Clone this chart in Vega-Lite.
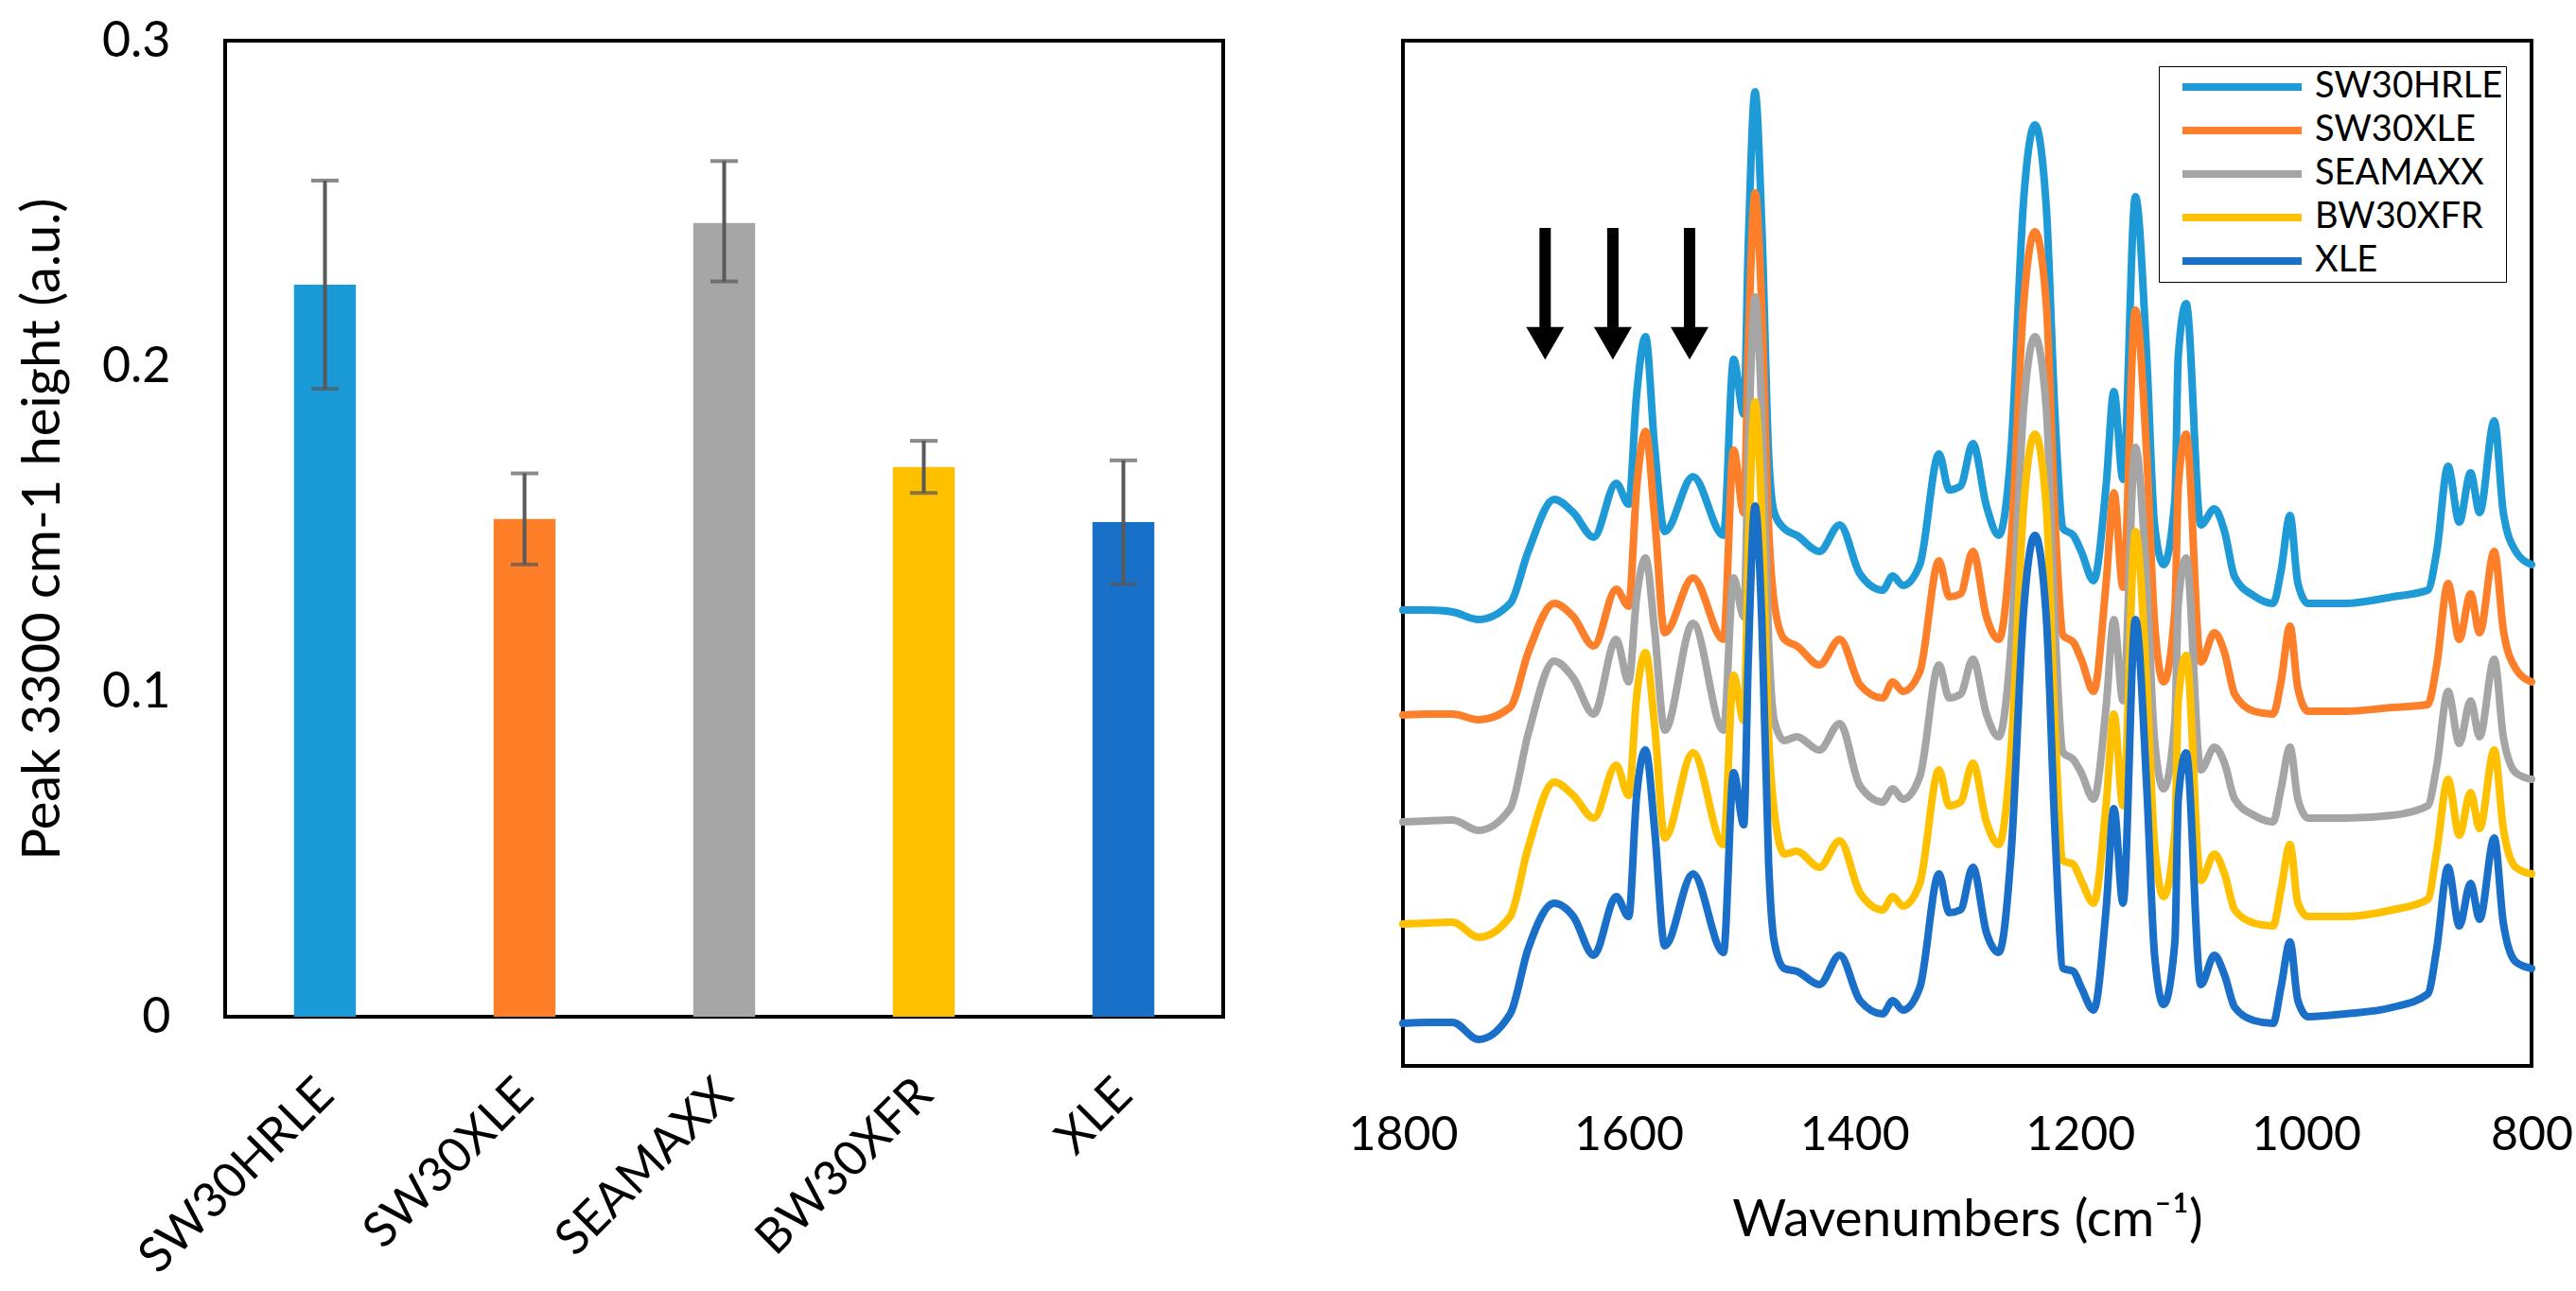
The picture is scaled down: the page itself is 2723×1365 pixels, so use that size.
{
  "$schema": "https://vega.github.io/schema/vega-lite/v6.json",
  "padding": {"left": 15, "top": 15, "right": 5, "bottom": 5},
  "bounds": "flush",
  "spacing": 190,
  "config": {
    "font": "Lato",
    "view": {"stroke": "black", "strokeWidth": 4},
    "axis": {"grid": false, "domain": false, "ticks": false, "tickSize": 0, "labelLimit": 0, "labelFlush": false, "labelColor": "black", "titleColor": "black", "titleFontWeight": "normal"}
  },
  "datasets": {
    "bars": [
      {"membrane": "SW30HRLE", "height": 0.225, "low": 0.193, "high": 0.257},
      {"membrane": "SW30XLE", "height": 0.153, "low": 0.139, "high": 0.167},
      {"membrane": "SEAMAXX", "height": 0.244, "low": 0.226, "high": 0.263},
      {"membrane": "BW30XFR", "height": 0.169, "low": 0.161, "high": 0.177},
      {"membrane": "XLE", "height": 0.152, "low": 0.133, "high": 0.171}
    ],
    "arrows": [
      {"wn": 1674, "top": 886, "bottom": 776, "head": 764},
      {"wn": 1614, "top": 886, "bottom": 776, "head": 764},
      {"wn": 1546, "top": 886, "bottom": 776, "head": 764}
    ],
    "spectra": [
      {"m":"SW30HRLE","wn":1800,"abs":482},{"m":"SW30HRLE","wn":1778,"abs":482},{"m":"SW30HRLE","wn":1756,"abs":480},{"m":"SW30HRLE","wn":1733,"abs":472},{"m":"SW30HRLE","wn":1705,"abs":489},{"m":"SW30HRLE","wn":1689,"abs":544},{"m":"SW30HRLE","wn":1666,"abs":599},{"m":"SW30HRLE","wn":1649,"abs":585},{"m":"SW30HRLE","wn":1631,"abs":559},{"m":"SW30HRLE","wn":1611,"abs":616},
      {"m":"SW30HRLE","wn":1600,"abs":594},{"m":"SW30HRLE","wn":1593,"abs":709},{"m":"SW30HRLE","wn":1585,"abs":771},{"m":"SW30HRLE","wn":1577,"abs":654},{"m":"SW30HRLE","wn":1568,"abs":565},{"m":"SW30HRLE","wn":1543,"abs":623},{"m":"SW30HRLE","wn":1516,"abs":561},{"m":"SW30HRLE","wn":1507,"abs":747},{"m":"SW30HRLE","wn":1498,"abs":689},{"m":"SW30HRLE","wn":1494,"abs":868},
      {"m":"SW30HRLE","wn":1488,"abs":1030},{"m":"SW30HRLE","wn":1482,"abs":888},{"m":"SW30HRLE","wn":1476,"abs":647},{"m":"SW30HRLE","wn":1471,"abs":585},{"m":"SW30HRLE","wn":1462,"abs":568},{"m":"SW30HRLE","wn":1451,"abs":561},{"m":"SW30HRLE","wn":1431,"abs":544},{"m":"SW30HRLE","wn":1413,"abs":572},{"m":"SW30HRLE","wn":1395,"abs":520},{"m":"SW30HRLE","wn":1375,"abs":503},
      {"m":"SW30HRLE","wn":1366,"abs":518},{"m":"SW30HRLE","wn":1357,"abs":508},{"m":"SW30HRLE","wn":1342,"abs":530},{"m":"SW30HRLE","wn":1325,"abs":647},{"m":"SW30HRLE","wn":1316,"abs":609},{"m":"SW30HRLE","wn":1306,"abs":613},{"m":"SW30HRLE","wn":1295,"abs":658},{"m":"SW30HRLE","wn":1283,"abs":592},{"m":"SW30HRLE","wn":1272,"abs":561},{"m":"SW30HRLE","wn":1261,"abs":654},
      {"m":"SW30HRLE","wn":1250,"abs":916},{"m":"SW30HRLE","wn":1240,"abs":995},{"m":"SW30HRLE","wn":1230,"abs":909},{"m":"SW30HRLE","wn":1222,"abs":682},{"m":"SW30HRLE","wn":1215,"abs":568},{"m":"SW30HRLE","wn":1206,"abs":561},{"m":"SW30HRLE","wn":1199,"abs":544},{"m":"SW30HRLE","wn":1188,"abs":513},{"m":"SW30HRLE","wn":1177,"abs":613},{"m":"SW30HRLE","wn":1170,"abs":713},
      {"m":"SW30HRLE","wn":1162,"abs":620},{"m":"SW30HRLE","wn":1151,"abs":919},{"m":"SW30HRLE","wn":1141,"abs":751},{"m":"SW30HRLE","wn":1134,"abs":572},{"m":"SW30HRLE","wn":1126,"abs":530},{"m":"SW30HRLE","wn":1116,"abs":599},{"m":"SW30HRLE","wn":1113,"abs":751},{"m":"SW30HRLE","wn":1106,"abs":806},{"m":"SW30HRLE","wn":1093,"abs":572},{"m":"SW30HRLE","wn":1081,"abs":589},
      {"m":"SW30HRLE","wn":1072,"abs":565},{"m":"SW30HRLE","wn":1063,"abs":517},{"m":"SW30HRLE","wn":1046,"abs":497},{"m":"SW30HRLE","wn":1029,"abs":489},{"m":"SW30HRLE","wn":1022,"abs":523},{"m":"SW30HRLE","wn":1014,"abs":582},{"m":"SW30HRLE","wn":1007,"abs":510},{"m":"SW30HRLE","wn":998,"abs":489},{"m":"SW30HRLE","wn":965,"abs":489},{"m":"SW30HRLE","wn":923,"abs":496},
      {"m":"SW30HRLE","wn":892,"abs":503},{"m":"SW30HRLE","wn":884,"abs":544},{"m":"SW30HRLE","wn":874,"abs":634},{"m":"SW30HRLE","wn":864,"abs":575},{"m":"SW30HRLE","wn":854,"abs":627},{"m":"SW30HRLE","wn":846,"abs":585},{"m":"SW30HRLE","wn":833,"abs":682},{"m":"SW30HRLE","wn":825,"abs":585},{"m":"SW30HRLE","wn":814,"abs":544},{"m":"SW30HRLE","wn":800,"abs":530},

      {"m":"SW30XLE","wn":1800,"abs":371},{"m":"SW30XLE","wn":1778,"abs":372},{"m":"SW30XLE","wn":1756,"abs":372},{"m":"SW30XLE","wn":1733,"abs":366},{"m":"SW30XLE","wn":1705,"abs":379},{"m":"SW30XLE","wn":1689,"abs":437},{"m":"SW30XLE","wn":1666,"abs":489},{"m":"SW30XLE","wn":1649,"abs":475},{"m":"SW30XLE","wn":1631,"abs":444},{"m":"SW30XLE","wn":1611,"abs":504},
      {"m":"SW30XLE","wn":1600,"abs":486},{"m":"SW30XLE","wn":1593,"abs":610},{"m":"SW30XLE","wn":1585,"abs":671},{"m":"SW30XLE","wn":1577,"abs":580},{"m":"SW30XLE","wn":1568,"abs":458},{"m":"SW30XLE","wn":1543,"abs":516},{"m":"SW30XLE","wn":1516,"abs":451},{"m":"SW30XLE","wn":1507,"abs":651},{"m":"SW30XLE","wn":1498,"abs":585},{"m":"SW30XLE","wn":1494,"abs":760},
      {"m":"SW30XLE","wn":1488,"abs":923},{"m":"SW30XLE","wn":1482,"abs":800},{"m":"SW30XLE","wn":1476,"abs":570},{"m":"SW30XLE","wn":1471,"abs":489},{"m":"SW30XLE","wn":1462,"abs":451},{"m":"SW30XLE","wn":1451,"abs":444},{"m":"SW30XLE","wn":1431,"abs":424},{"m":"SW30XLE","wn":1413,"abs":451},{"m":"SW30XLE","wn":1395,"abs":403},{"m":"SW30XLE","wn":1375,"abs":389},
      {"m":"SW30XLE","wn":1366,"abs":406},{"m":"SW30XLE","wn":1357,"abs":396},{"m":"SW30XLE","wn":1342,"abs":417},{"m":"SW30XLE","wn":1325,"abs":534},{"m":"SW30XLE","wn":1316,"abs":496},{"m":"SW30XLE","wn":1306,"abs":499},{"m":"SW30XLE","wn":1295,"abs":544},{"m":"SW30XLE","wn":1283,"abs":475},{"m":"SW30XLE","wn":1272,"abs":451},{"m":"SW30XLE","wn":1261,"abs":558},
      {"m":"SW30XLE","wn":1250,"abs":806},{"m":"SW30XLE","wn":1240,"abs":882},{"m":"SW30XLE","wn":1230,"abs":806},{"m":"SW30XLE","wn":1222,"abs":572},{"m":"SW30XLE","wn":1215,"abs":455},{"m":"SW30XLE","wn":1206,"abs":448},{"m":"SW30XLE","wn":1199,"abs":430},{"m":"SW30XLE","wn":1188,"abs":396},{"m":"SW30XLE","wn":1177,"abs":510},{"m":"SW30XLE","wn":1170,"abs":606},
      {"m":"SW30XLE","wn":1162,"abs":506},{"m":"SW30XLE","wn":1151,"abs":799},{"m":"SW30XLE","wn":1141,"abs":647},{"m":"SW30XLE","wn":1134,"abs":468},{"m":"SW30XLE","wn":1126,"abs":406},{"m":"SW30XLE","wn":1116,"abs":482},{"m":"SW30XLE","wn":1113,"abs":613},{"m":"SW30XLE","wn":1106,"abs":668},{"m":"SW30XLE","wn":1093,"abs":427},{"m":"SW30XLE","wn":1081,"abs":458},
      {"m":"SW30XLE","wn":1072,"abs":437},{"m":"SW30XLE","wn":1063,"abs":393},{"m":"SW30XLE","wn":1046,"abs":375},{"m":"SW30XLE","wn":1029,"abs":372},{"m":"SW30XLE","wn":1022,"abs":406},{"m":"SW30XLE","wn":1014,"abs":465},{"m":"SW30XLE","wn":1007,"abs":399},{"m":"SW30XLE","wn":998,"abs":375},{"m":"SW30XLE","wn":965,"abs":375},{"m":"SW30XLE","wn":923,"abs":379},
      {"m":"SW30XLE","wn":892,"abs":382},{"m":"SW30XLE","wn":884,"abs":424},{"m":"SW30XLE","wn":874,"abs":510},{"m":"SW30XLE","wn":864,"abs":451},{"m":"SW30XLE","wn":854,"abs":499},{"m":"SW30XLE","wn":846,"abs":458},{"m":"SW30XLE","wn":833,"abs":544},{"m":"SW30XLE","wn":825,"abs":461},{"m":"SW30XLE","wn":814,"abs":420},{"m":"SW30XLE","wn":800,"abs":406},

      {"m":"SEAMAXX","wn":1800,"abs":258},{"m":"SEAMAXX","wn":1778,"abs":259},{"m":"SEAMAXX","wn":1756,"abs":260},{"m":"SEAMAXX","wn":1733,"abs":249},{"m":"SEAMAXX","wn":1705,"abs":272},{"m":"SEAMAXX","wn":1689,"abs":351},{"m":"SEAMAXX","wn":1666,"abs":428},{"m":"SEAMAXX","wn":1649,"abs":410},{"m":"SEAMAXX","wn":1631,"abs":372},{"m":"SEAMAXX","wn":1611,"abs":451},
      {"m":"SEAMAXX","wn":1600,"abs":406},{"m":"SEAMAXX","wn":1593,"abs":495},{"m":"SEAMAXX","wn":1585,"abs":537},{"m":"SEAMAXX","wn":1577,"abs":460},{"m":"SEAMAXX","wn":1568,"abs":355},{"m":"SEAMAXX","wn":1543,"abs":468},{"m":"SEAMAXX","wn":1516,"abs":355},{"m":"SEAMAXX","wn":1507,"abs":516},{"m":"SEAMAXX","wn":1498,"abs":475},{"m":"SEAMAXX","wn":1494,"abs":650},
      {"m":"SEAMAXX","wn":1488,"abs":813},{"m":"SEAMAXX","wn":1482,"abs":690},{"m":"SEAMAXX","wn":1476,"abs":450},{"m":"SEAMAXX","wn":1471,"abs":365},{"m":"SEAMAXX","wn":1462,"abs":344},{"m":"SEAMAXX","wn":1451,"abs":348},{"m":"SEAMAXX","wn":1431,"abs":334},{"m":"SEAMAXX","wn":1413,"abs":362},{"m":"SEAMAXX","wn":1395,"abs":296},{"m":"SEAMAXX","wn":1375,"abs":279},
      {"m":"SEAMAXX","wn":1366,"abs":293},{"m":"SEAMAXX","wn":1357,"abs":282},{"m":"SEAMAXX","wn":1342,"abs":306},{"m":"SEAMAXX","wn":1325,"abs":424},{"m":"SEAMAXX","wn":1316,"abs":389},{"m":"SEAMAXX","wn":1306,"abs":393},{"m":"SEAMAXX","wn":1295,"abs":430},{"m":"SEAMAXX","wn":1283,"abs":372},{"m":"SEAMAXX","wn":1272,"abs":348},{"m":"SEAMAXX","wn":1261,"abs":448},
      {"m":"SEAMAXX","wn":1250,"abs":696},{"m":"SEAMAXX","wn":1240,"abs":771},{"m":"SEAMAXX","wn":1230,"abs":696},{"m":"SEAMAXX","wn":1222,"abs":455},{"m":"SEAMAXX","wn":1215,"abs":331},{"m":"SEAMAXX","wn":1206,"abs":324},{"m":"SEAMAXX","wn":1199,"abs":310},{"m":"SEAMAXX","wn":1188,"abs":282},{"m":"SEAMAXX","wn":1177,"abs":379},{"m":"SEAMAXX","wn":1170,"abs":472},
      {"m":"SEAMAXX","wn":1162,"abs":386},{"m":"SEAMAXX","wn":1151,"abs":654},{"m":"SEAMAXX","wn":1141,"abs":510},{"m":"SEAMAXX","wn":1134,"abs":344},{"m":"SEAMAXX","wn":1126,"abs":293},{"m":"SEAMAXX","wn":1116,"abs":365},{"m":"SEAMAXX","wn":1113,"abs":489},{"m":"SEAMAXX","wn":1106,"abs":537},{"m":"SEAMAXX","wn":1093,"abs":313},{"m":"SEAMAXX","wn":1081,"abs":337},
      {"m":"SEAMAXX","wn":1072,"abs":320},{"m":"SEAMAXX","wn":1063,"abs":282},{"m":"SEAMAXX","wn":1046,"abs":265},{"m":"SEAMAXX","wn":1029,"abs":258},{"m":"SEAMAXX","wn":1022,"abs":293},{"m":"SEAMAXX","wn":1014,"abs":337},{"m":"SEAMAXX","wn":1007,"abs":282},{"m":"SEAMAXX","wn":998,"abs":262},{"m":"SEAMAXX","wn":965,"abs":262},{"m":"SEAMAXX","wn":923,"abs":265},
      {"m":"SEAMAXX","wn":892,"abs":275},{"m":"SEAMAXX","wn":884,"abs":317},{"m":"SEAMAXX","wn":874,"abs":396},{"m":"SEAMAXX","wn":864,"abs":341},{"m":"SEAMAXX","wn":854,"abs":386},{"m":"SEAMAXX","wn":846,"abs":348},{"m":"SEAMAXX","wn":833,"abs":430},{"m":"SEAMAXX","wn":825,"abs":348},{"m":"SEAMAXX","wn":814,"abs":310},{"m":"SEAMAXX","wn":800,"abs":303},

      {"m":"BW30XFR","wn":1800,"abs":150},{"m":"BW30XFR","wn":1778,"abs":151},{"m":"BW30XFR","wn":1756,"abs":152},{"m":"BW30XFR","wn":1733,"abs":136},{"m":"BW30XFR","wn":1705,"abs":158},{"m":"BW30XFR","wn":1689,"abs":231},{"m":"BW30XFR","wn":1666,"abs":300},{"m":"BW30XFR","wn":1649,"abs":286},{"m":"BW30XFR","wn":1631,"abs":262},{"m":"BW30XFR","wn":1611,"abs":318},
      {"m":"BW30XFR","wn":1600,"abs":286},{"m":"BW30XFR","wn":1593,"abs":390},{"m":"BW30XFR","wn":1585,"abs":437},{"m":"BW30XFR","wn":1577,"abs":360},{"m":"BW30XFR","wn":1568,"abs":241},{"m":"BW30XFR","wn":1543,"abs":331},{"m":"BW30XFR","wn":1516,"abs":234},{"m":"BW30XFR","wn":1507,"abs":413},{"m":"BW30XFR","wn":1498,"abs":365},{"m":"BW30XFR","wn":1494,"abs":540},
      {"m":"BW30XFR","wn":1488,"abs":702},{"m":"BW30XFR","wn":1482,"abs":580},{"m":"BW30XFR","wn":1476,"abs":350},{"m":"BW30XFR","wn":1471,"abs":269},{"m":"BW30XFR","wn":1462,"abs":224},{"m":"BW30XFR","wn":1451,"abs":227},{"m":"BW30XFR","wn":1431,"abs":210},{"m":"BW30XFR","wn":1413,"abs":238},{"m":"BW30XFR","wn":1395,"abs":183},{"m":"BW30XFR","wn":1375,"abs":165},
      {"m":"BW30XFR","wn":1366,"abs":179},{"m":"BW30XFR","wn":1357,"abs":169},{"m":"BW30XFR","wn":1342,"abs":193},{"m":"BW30XFR","wn":1325,"abs":313},{"m":"BW30XFR","wn":1316,"abs":275},{"m":"BW30XFR","wn":1306,"abs":279},{"m":"BW30XFR","wn":1295,"abs":320},{"m":"BW30XFR","wn":1283,"abs":258},{"m":"BW30XFR","wn":1272,"abs":234},{"m":"BW30XFR","wn":1261,"abs":337},
      {"m":"BW30XFR","wn":1250,"abs":592},{"m":"BW30XFR","wn":1240,"abs":668},{"m":"BW30XFR","wn":1230,"abs":592},{"m":"BW30XFR","wn":1222,"abs":351},{"m":"BW30XFR","wn":1215,"abs":217},{"m":"BW30XFR","wn":1206,"abs":213},{"m":"BW30XFR","wn":1199,"abs":196},{"m":"BW30XFR","wn":1188,"abs":172},{"m":"BW30XFR","wn":1177,"abs":275},{"m":"BW30XFR","wn":1170,"abs":372},
      {"m":"BW30XFR","wn":1162,"abs":275},{"m":"BW30XFR","wn":1151,"abs":565},{"m":"BW30XFR","wn":1141,"abs":406},{"m":"BW30XFR","wn":1134,"abs":234},{"m":"BW30XFR","wn":1126,"abs":179},{"m":"BW30XFR","wn":1116,"abs":248},{"m":"BW30XFR","wn":1113,"abs":386},{"m":"BW30XFR","wn":1106,"abs":434},{"m":"BW30XFR","wn":1093,"abs":196},{"m":"BW30XFR","wn":1081,"abs":224},
      {"m":"BW30XFR","wn":1072,"abs":203},{"m":"BW30XFR","wn":1063,"abs":165},{"m":"BW30XFR","wn":1046,"abs":151},{"m":"BW30XFR","wn":1029,"abs":148},{"m":"BW30XFR","wn":1022,"abs":186},{"m":"BW30XFR","wn":1014,"abs":234},{"m":"BW30XFR","wn":1007,"abs":172},{"m":"BW30XFR","wn":998,"abs":158},{"m":"BW30XFR","wn":965,"abs":158},{"m":"BW30XFR","wn":923,"abs":165},
      {"m":"BW30XFR","wn":892,"abs":176},{"m":"BW30XFR","wn":884,"abs":227},{"m":"BW30XFR","wn":874,"abs":303},{"m":"BW30XFR","wn":864,"abs":244},{"m":"BW30XFR","wn":854,"abs":289},{"m":"BW30XFR","wn":846,"abs":251},{"m":"BW30XFR","wn":833,"abs":334},{"m":"BW30XFR","wn":825,"abs":251},{"m":"BW30XFR","wn":814,"abs":210},{"m":"BW30XFR","wn":800,"abs":203},

      {"m":"XLE","wn":1800,"abs":45},{"m":"XLE","wn":1778,"abs":46},{"m":"XLE","wn":1756,"abs":46},{"m":"XLE","wn":1733,"abs":28},{"m":"XLE","wn":1705,"abs":55},{"m":"XLE","wn":1689,"abs":124},{"m":"XLE","wn":1666,"abs":172},{"m":"XLE","wn":1649,"abs":158},{"m":"XLE","wn":1631,"abs":117},{"m":"XLE","wn":1611,"abs":179},
      {"m":"XLE","wn":1600,"abs":158},{"m":"XLE","wn":1593,"abs":285},{"m":"XLE","wn":1585,"abs":334},{"m":"XLE","wn":1577,"abs":250},{"m":"XLE","wn":1568,"abs":127},{"m":"XLE","wn":1543,"abs":203},{"m":"XLE","wn":1516,"abs":120},{"m":"XLE","wn":1507,"abs":310},{"m":"XLE","wn":1498,"abs":255},{"m":"XLE","wn":1494,"abs":430},
      {"m":"XLE","wn":1488,"abs":592},{"m":"XLE","wn":1482,"abs":470},{"m":"XLE","wn":1476,"abs":215},{"m":"XLE","wn":1471,"abs":131},{"m":"XLE","wn":1462,"abs":103},{"m":"XLE","wn":1451,"abs":100},{"m":"XLE","wn":1431,"abs":86},{"m":"XLE","wn":1413,"abs":117},{"m":"XLE","wn":1395,"abs":69},{"m":"XLE","wn":1375,"abs":55},
      {"m":"XLE","wn":1366,"abs":69},{"m":"XLE","wn":1357,"abs":59},{"m":"XLE","wn":1342,"abs":83},{"m":"XLE","wn":1325,"abs":203},{"m":"XLE","wn":1316,"abs":162},{"m":"XLE","wn":1306,"abs":165},{"m":"XLE","wn":1295,"abs":210},{"m":"XLE","wn":1283,"abs":141},{"m":"XLE","wn":1272,"abs":120},{"m":"XLE","wn":1261,"abs":227},
      {"m":"XLE","wn":1250,"abs":482},{"m":"XLE","wn":1240,"abs":561},{"m":"XLE","wn":1230,"abs":475},{"m":"XLE","wn":1222,"abs":241},{"m":"XLE","wn":1215,"abs":103},{"m":"XLE","wn":1206,"abs":100},{"m":"XLE","wn":1199,"abs":83},{"m":"XLE","wn":1188,"abs":59},{"m":"XLE","wn":1177,"abs":165},{"m":"XLE","wn":1170,"abs":272},
      {"m":"XLE","wn":1162,"abs":172},{"m":"XLE","wn":1151,"abs":472},{"m":"XLE","wn":1141,"abs":296},{"m":"XLE","wn":1134,"abs":117},{"m":"XLE","wn":1126,"abs":65},{"m":"XLE","wn":1116,"abs":131},{"m":"XLE","wn":1113,"abs":282},{"m":"XLE","wn":1106,"abs":331},{"m":"XLE","wn":1093,"abs":86},{"m":"XLE","wn":1081,"abs":117},
      {"m":"XLE","wn":1072,"abs":96},{"m":"XLE","wn":1063,"abs":62},{"m":"XLE","wn":1046,"abs":48},{"m":"XLE","wn":1029,"abs":45},{"m":"XLE","wn":1022,"abs":83},{"m":"XLE","wn":1014,"abs":131},{"m":"XLE","wn":1007,"abs":69},{"m":"XLE","wn":998,"abs":52},{"m":"XLE","wn":965,"abs":55},{"m":"XLE","wn":923,"abs":62},
      {"m":"XLE","wn":892,"abs":76},{"m":"XLE","wn":884,"abs":124},{"m":"XLE","wn":874,"abs":210},{"m":"XLE","wn":864,"abs":148},{"m":"XLE","wn":854,"abs":193},{"m":"XLE","wn":846,"abs":155},{"m":"XLE","wn":833,"abs":241},{"m":"XLE","wn":825,"abs":151},{"m":"XLE","wn":814,"abs":110},{"m":"XLE","wn":800,"abs":103}
    ]
  },
  "hconcat": [
    {
      "width": 1055,
      "height": 1032,
      "data": {"name": "bars"},
      "encoding": {
        "x": {
          "field": "membrane",
          "type": "nominal",
          "sort": null,
          "scale": {"paddingInner": 0, "paddingOuter": 0},
          "axis": {"title": null, "labelAngle": -45, "labelAlign": "right", "labelBaseline": "alphabetic", "labelFontSize": 51, "labelPadding": 85, "labelOffset": 12}
        }
      },
      "layer": [
        {
          "mark": {"type": "bar", "width": {"band": 0.31}},
          "encoding": {
            "y": {
              "field": "height",
              "type": "quantitative",
              "title": "Peak 3300 cm-1 height (a.u.)",
              "scale": {"domain": [0, 0.3]},
              "axis": {"values": [0, 0.1, 0.2, 0.3], "format": "~g", "labelFontSize": 52, "labelPadding": 58, "titleFontSize": 56, "titlePadding": 33}
            },
            "color": {
              "field": "membrane",
              "type": "nominal",
              "scale": {"domain": ["SW30HRLE", "SW30XLE", "SEAMAXX", "BW30XFR", "XLE"], "range": ["#1a9bd7", "#fe7f27", "#a6a6a6", "#ffc000", "#1870c8"]},
              "legend": null
            }
          }
        },
        {
          "mark": {"type": "rule", "color": "#595959", "strokeWidth": 4},
          "encoding": {
            "y": {"field": "low", "type": "quantitative", "title": "Peak 3300 cm-1 height (a.u.)"},
            "y2": {"field": "high"}
          }
        },
        {
          "mark": {"type": "tick", "color": "#595959", "thickness": 4, "size": 29},
          "encoding": {"y": {"field": "low", "type": "quantitative", "title": "Peak 3300 cm-1 height (a.u.)"}}
        },
        {
          "mark": {"type": "tick", "color": "#595959", "thickness": 4, "size": 29},
          "encoding": {"y": {"field": "high", "type": "quantitative", "title": "Peak 3300 cm-1 height (a.u.)"}}
        }
      ]
    },
    {
      "width": 1193,
      "height": 1084,
      "layer": [
        {
          "data": {"name": "spectra"},
          "mark": {"type": "line", "strokeWidth": 8, "interpolate": "monotone", "strokeJoin": "round", "strokeCap": "round"},
          "encoding": {
            "x": {
              "field": "wn",
              "type": "quantitative",
              "title": "Wavenumbers (cm⁻¹)",
              "scale": {"domain": [800, 1800], "reverse": true, "nice": false, "zero": false},
              "axis": {"values": [1800, 1600, 1400, 1200, 1000, 800], "format": "d", "labelFontSize": 50, "labelPadding": 48, "titleFontSize": 55, "titlePadding": 38}
            },
            "y": {"field": "abs", "type": "quantitative", "scale": {"domain": [0, 1084], "nice": false}, "axis": null},
            "color": {
              "field": "m",
              "type": "nominal",
              "scale": {"domain": ["SW30HRLE", "SW30XLE", "SEAMAXX", "BW30XFR", "XLE"], "range": ["#1e9bd7", "#fd7f2a", "#a5a5a5", "#ffc000", "#1a6fc8"]},
              "legend": {
                "title": null,
                "orient": "top-right",
                "offset": 27,
                "labelFontSize": 38,
                "labelColor": "black",
                "labelLimit": 0,
                "symbolType": "M-4.2,0H4.2",
                "symbolSize": 900,
                "symbolStrokeWidth": 8,
                "symbolOffset": 66,
                "labelOffset": 58,
                "rowPadding": 8,
                "padding": 3,
                "strokeColor": "black",
                "fillColor": "white"
              }
            }
          }
        },
        {
          "data": {"name": "arrows"},
          "mark": {"type": "rule", "color": "black", "strokeWidth": 12},
          "encoding": {
            "x": {"field": "wn", "type": "quantitative"},
            "y": {"field": "top", "type": "quantitative"},
            "y2": {"field": "bottom"}
          }
        },
        {
          "data": {"name": "arrows"},
          "mark": {"type": "point", "shape": "triangle-down", "filled": true, "color": "black", "opacity": 1, "size": 1600},
          "encoding": {
            "x": {"field": "wn", "type": "quantitative"},
            "y": {"field": "head", "type": "quantitative"}
          }
        }
      ]
    }
  ],
  "resolve": {"scale": {"color": "independent"}}
}
